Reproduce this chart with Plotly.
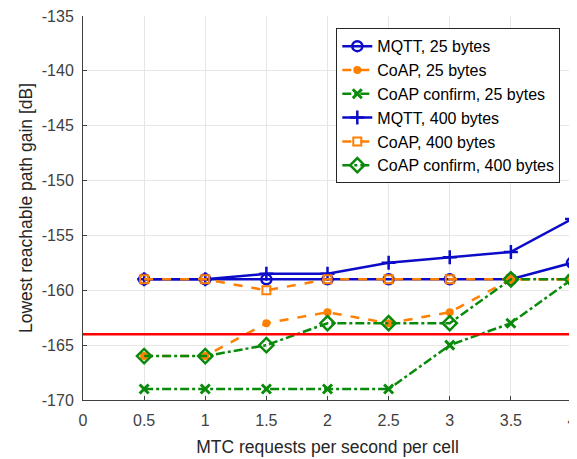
import plotly.graph_objects as go

x_vals = [0.5, 1, 1.5, 2, 2.5, 3, 3.5, 4]
mqtt_25 = [-159, -159, -159, -159, -159, -159, -159, -157.5]
coap_25 = [-166, -166, -163, -162, -163, -162, -159, -159]
coap_conf_25 = [-169, -169, -169, -169, -169, -165, -163, -159]
mqtt_400 = [-159, -159, -158.5, -158.5, -157.5, -157, -156.5, -153.5]
coap_400 = [-159, -159, -160, -159, -159, -159, -159, -159]
coap_conf_400 = [-166, -166, -165, -163, -163, -163, -159, -159]
threshold = -164
names = ["MQTT, 25 bytes", "CoAP, 25 bytes", "CoAP confirm, 25 bytes",
         "MQTT, 400 bytes", "CoAP, 400 bytes", "CoAP confirm, 400 bytes"]
x_ticks = [0, 0.5, 1, 1.5, 2, 2.5, 3, 3.5, 4]
x_tick_labels = ["0", "0.5", "1", "1.5", "2", "2.5", "3", "3.5", "4"]
y_ticks = [-170, -165, -160, -155, -150, -145, -140, -135]
y_tick_labels = ["-170", "-165", "-160", "-155", "-150", "-145", "-140", "-135"]

BLUE = "#0b0bc8"
ORANGE = "#ff8000"
GREEN = "#0a8a0a"

fig = go.Figure()
styles = [
    (mqtt_25, BLUE, "solid", dict(symbol="circle-open", size=10, line=dict(width=2.5, color=BLUE))),
    (coap_25, ORANGE, "dash", dict(symbol="circle", size=8, color=ORANGE)),
    (coap_conf_25, GREEN, "dashdot", dict(symbol="x-thin-open", size=9, line=dict(width=3, color=GREEN))),
    (mqtt_400, BLUE, "solid", dict(symbol="cross-thin-open", size=10, line=dict(width=2.5, color=BLUE))),
    (coap_400, ORANGE, "dash", dict(symbol="square-open", size=8, line=dict(width=2, color=ORANGE))),
    (coap_conf_400, GREEN, "dashdot", dict(symbol="diamond-open", size=11, line=dict(width=2.5, color=GREEN))),
]
for (ys, col, dash, mk), nm in zip(styles, names):
    fig.add_trace(go.Scatter(x=x_vals, y=ys, name=nm, mode="lines+markers",
                             line=dict(color=col, width=2.5, dash=dash),
                             marker=mk))

fig.add_shape(type="line", xref="x domain", yref="y", x0=0, x1=1, y0=threshold, y1=threshold,
              line=dict(color="#ff0000", width=2.5))

fig.update_layout(
    width=569, height=451,
    margin=dict(l=75, r=0, t=7, b=59),
    paper_bgcolor="white", plot_bgcolor="white",
    font=dict(family="Liberation Sans, Arial, sans-serif", size=14, color="#262626"),
    showlegend=True,
    legend=dict(x=0.518, y=0.968, xanchor="left", yanchor="top",
                bgcolor="white", bordercolor="#262626", borderwidth=1,
                font=dict(size=16, color="#000000"), itemwidth=30,
                tracegroupgap=0),
)
fig.update_xaxes(range=[0, 4], tickvals=x_ticks, ticktext=x_tick_labels, showgrid=True, gridcolor="#e6e6e6",
                 showline=True, linecolor="#404040", linewidth=1, ticks="inside",
                 ticklen=4, tickcolor="#404040", zeroline=False, automargin=True,
                 ticklabeloverflow="allow", ticklabelstandoff=6,
                 tickfont=dict(size=16, color="#404040"),
                 title=dict(text="MTC requests per second per cell", font=dict(size=17.5, color="#262626"),
                            standoff=12))
fig.update_yaxes(range=[-170, -135], tickvals=y_ticks, ticktext=y_tick_labels, showgrid=True, gridcolor="#e6e6e6",
                 showline=True, linecolor="#404040", linewidth=1, ticks="inside",
                 ticklen=4, tickcolor="#404040", zeroline=False, automargin=True,
                 ticklabeloverflow="allow", ticklabelstandoff=5,
                 tickfont=dict(size=16, color="#404040"),
                 title=dict(text="Lowest reachable path gain [dB]", font=dict(size=17.5, color="#262626"),
                            standoff=4))

fig.write_html("out.html")
